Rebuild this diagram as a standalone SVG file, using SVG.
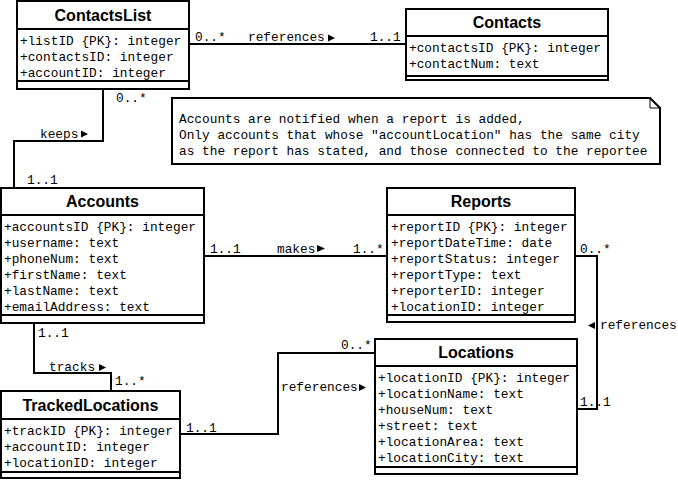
<svg xmlns="http://www.w3.org/2000/svg" width="678" height="481" viewBox="0 0 678 481">
<style>
.box{fill:#fff;stroke:#000;stroke-width:2}
.sep{stroke:#000;stroke-width:2}
.title{font-family:"Liberation Sans",Arial,sans-serif;font-weight:bold;font-size:16px;text-anchor:middle;fill:#000}
.attr{font-family:"Liberation Mono","Courier New",monospace;font-size:12.8px;fill:#000}
.lbl{font-family:"Liberation Mono","Courier New",monospace;font-size:12.8px;fill:#000}
.conn{fill:none;stroke:#000;stroke-width:2}
.tri{fill:#000}
</style>
<rect width="678" height="481" fill="#fff"/>
<g id="connectors">
  <line class="conn" x1="189" y1="44" x2="406" y2="44"/>
  <polyline class="conn" points="103,89 103,141 14,141 14,188"/>
  <line class="conn" x1="204" y1="256" x2="387" y2="256"/>
  <polyline class="conn" points="575,256 597,256 597,409 577,409"/>
  <polyline class="conn" points="34,323 34,373 111,373 111,391"/>
  <polyline class="conn" points="180,434 278,434 278,353 375,353"/>
  <text class="lbl" x="195" y="41">0..*</text>
  <text class="lbl" x="248" y="41">references</text>
  <polygon class="tri" points="328,34.5 335,38 328,41.5"/>
  <text class="lbl" x="370" y="41">1..1</text>
  <text class="lbl" x="116" y="102">0..*</text>
  <text class="lbl" x="40" y="138">keeps</text>
  <polygon class="tri" points="81,130.5 88,134 81,137.5"/>
  <text class="lbl" x="27" y="184">1..1</text>
  <text class="lbl" x="210" y="253">1..1</text>
  <text class="lbl" x="277" y="253">makes</text>
  <polygon class="tri" points="317,245 325,248.5 317,252"/>
  <text class="lbl" x="353" y="253">1..*</text>
  <text class="lbl" x="580" y="253">0..*</text>
  <polygon class="tri" points="595,322 588,325.5 595,329"/>
  <text class="lbl" x="600" y="329">references</text>
  <text class="lbl" x="580" y="406">1..1</text>
  <text class="lbl" x="38" y="337">1..1</text>
  <text class="lbl" x="49" y="371">tracks</text>
  <polygon class="tri" points="99,364 106,367.5 99,371"/>
  <text class="lbl" x="115" y="385">1..*</text>
  <text class="lbl" x="186" y="432">1..1</text>
  <text class="lbl" x="281" y="391">references</text>
  <polygon class="tri" points="359,384 366,387.5 359,391"/>
  <text class="lbl" x="341" y="349">0..*</text>
</g>
<g id="note">
  <polygon points="172,98 650,98 660,108 660,164 172,164" fill="#fff" stroke="#000" stroke-width="2"/>
  <polyline points="650,98 650,108 660,108" fill="none" stroke="#000" stroke-width="1"/>
  <text class="lbl" x="179" y="123">Accounts are notified when a report is added,</text>
  <text class="lbl" x="179" y="139">Only accounts that whose "accountLocation" has the same city</text>
  <text class="lbl" x="179" y="155">as the report has stated, and those connected to the reportee</text>
</g>
<g id="ContactsList">
  <rect class="box" x="17" y="1" width="172" height="88"/>
  <line class="sep" x1="17" y1="29" x2="189" y2="29"/>
  <line class="sep" x1="17" y1="81" x2="189" y2="81"/>
  <text class="title" x="103" y="21">ContactsList</text>
  <text class="attr" x="20" y="45">+listID {PK}: integer</text>
  <text class="attr" x="20" y="61">+contactsID: integer</text>
  <text class="attr" x="20" y="77">+accountID: integer</text>
</g>
<g id="Contacts">
  <rect class="box" x="406" y="9" width="202" height="71"/>
  <line class="sep" x1="406" y1="36" x2="608" y2="36"/>
  <line class="sep" x1="406" y1="76" x2="608" y2="76"/>
  <text class="title" x="507" y="28">Contacts</text>
  <text class="attr" x="409" y="52">+contactsID {PK}: integer</text>
  <text class="attr" x="409" y="68">+contactNum: text</text>
</g>
<g id="Accounts">
  <rect class="box" x="1" y="188" width="203" height="135"/>
  <line class="sep" x1="1" y1="215" x2="204" y2="215"/>
  <line class="sep" x1="1" y1="315" x2="204" y2="315"/>
  <text class="title" x="102.5" y="207">Accounts</text>
  <text class="attr" x="4" y="231">+accountsID {PK}: integer</text>
  <text class="attr" x="4" y="247">+username: text</text>
  <text class="attr" x="4" y="263">+phoneNum: text</text>
  <text class="attr" x="4" y="279">+firstName: text</text>
  <text class="attr" x="4" y="295">+lastName: text</text>
  <text class="attr" x="4" y="311">+emailAddress: text</text>
</g>
<g id="Reports">
  <rect class="box" x="387" y="188" width="188" height="134"/>
  <line class="sep" x1="387" y1="215" x2="575" y2="215"/>
  <line class="sep" x1="387" y1="315" x2="575" y2="315"/>
  <text class="title" x="481" y="207">Reports</text>
  <text class="attr" x="391" y="231">+reportID {PK}: integer</text>
  <text class="attr" x="391" y="247">+reportDateTime: date</text>
  <text class="attr" x="391" y="263">+reportStatus: integer</text>
  <text class="attr" x="391" y="279">+reportType: text</text>
  <text class="attr" x="391" y="295">+reporterID: integer</text>
  <text class="attr" x="391" y="311">+locationID: integer</text>
</g>
<g id="Locations">
  <rect class="box" x="375" y="339" width="202" height="135"/>
  <line class="sep" x1="375" y1="366" x2="577" y2="366"/>
  <line class="sep" x1="375" y1="467" x2="577" y2="467"/>
  <text class="title" x="476" y="358">Locations</text>
  <text class="attr" x="378" y="382">+locationID {PK}: integer</text>
  <text class="attr" x="378" y="398">+locationName: text</text>
  <text class="attr" x="378" y="414">+houseNum: text</text>
  <text class="attr" x="378" y="430">+street: text</text>
  <text class="attr" x="378" y="446">+locationArea: text</text>
  <text class="attr" x="378" y="462">+locationCity: text</text>
</g>
<g id="TrackedLocations">
  <rect class="box" x="1" y="391" width="179" height="87"/>
  <line class="sep" x1="1" y1="419" x2="180" y2="419"/>
  <line class="sep" x1="1" y1="472" x2="180" y2="472"/>
  <text class="title" x="90.5" y="411">TrackedLocations</text>
  <text class="attr" x="4" y="435">+trackID {PK}: integer</text>
  <text class="attr" x="4" y="451">+accountID: integer</text>
  <text class="attr" x="4" y="467">+locationID: integer</text>
</g>
</svg>
